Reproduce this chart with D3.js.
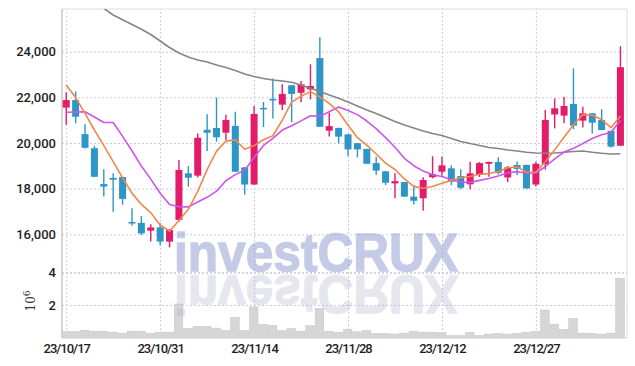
<!DOCTYPE html>
<html><head><meta charset="utf-8">
<script src="https://cdn.jsdelivr.net/npm/d3@7/dist/d3.min.js"></script>
<style>body{margin:0;background:#fff}svg{display:block}</style>
</head><body><svg id="c" width="635" height="366"></svg>
<script>
const dates = ["23/10/17","23/10/18","23/10/19","23/10/20","23/10/23","23/10/24","23/10/25","23/10/26","23/10/27","23/10/30",
"23/10/31","23/11/01","23/11/02","23/11/03","23/11/06","23/11/07","23/11/08","23/11/09","23/11/10","23/11/13",
"23/11/14","23/11/15","23/11/16","23/11/17","23/11/20","23/11/21","23/11/22","23/11/23","23/11/24","23/11/27",
"23/11/28","23/11/29","23/11/30","23/12/01","23/12/04","23/12/05","23/12/06","23/12/07","23/12/08","23/12/11",
"23/12/12","23/12/13","23/12/14","23/12/15","23/12/18","23/12/19","23/12/20","23/12/21","23/12/22","23/12/26",
"23/12/27","23/12/28","24/01/02","24/01/03","24/01/04","24/01/05","24/01/08","24/01/09","24/01/10","24/01/11"];
const opens = [21550,21880,20390,19770,18200,18470,18510,16540,16500,16160,16300,15680,16630,18670,18570,20580,20660,20450,20750,18930,
18180,21540,21930,21680,22530,22200,22350,23720,20540,20660,20380,19990,19740,19120,18760,18230,18290,17650,17580,18500,
18740,18890,18550,18190,18600,19090,19170,18490,19040,19040,18180,19080,21250,21200,21710,20980,21300,21010,20530,19880];
const highs = [22220,22260,20820,19880,18850,18670,18520,17140,16800,16440,16480,16230,19250,18990,20420,21260,21990,21240,21370,18950,
21620,21800,22830,22570,22540,22720,23450,24630,21330,20670,20390,20000,19750,19400,18770,18670,18300,18160,18500,19420,
19400,19020,18850,19180,19170,19180,19370,18990,19190,19050,19180,21450,21950,22030,23270,21590,21310,21480,20540,24240];
const lows = [20800,20860,19760,18500,17660,16990,17300,16380,15970,15690,15520,15430,16550,18090,18500,19650,20060,20130,18740,17740,
18170,20700,21070,21450,20910,21780,21910,20700,20280,19990,19430,19370,19080,18610,18150,17580,17640,17310,17030,18450,
18560,18150,17970,17970,18510,18520,18620,18290,18600,18000,18090,18840,20640,20860,20610,20680,20420,20560,19800,19870];
const closes = [21880,21150,19790,18520,18090,18390,17550,16470,16040,16300,15680,16190,18820,18480,20230,20450,20250,21010,18740,18180,
21270,21500,21890,22150,22150,22570,22500,20710,20740,20280,19720,19720,19090,18790,18260,18330,17650,17470,18380,18640,
19020,18300,18040,18670,19120,19170,18690,18930,18860,18010,19090,21010,21520,21620,20760,21300,20890,20570,19840,23320];
const volumes = [0.37,0.37,0.45,0.39,0.39,0.33,0.27,0.39,0.39,0.27,0.33,0.33,2.06,0.55,0.68,0.68,0.58,0.43,1.24,0.43,
1.88,0.82,0.74,0.43,0.55,0.39,0.74,1.79,0.39,0.33,0.50,0.35,0.43,0.25,0.25,0.21,0.27,0.39,0.33,0.33,
0.30,0.12,0.12,0.31,0.12,0.21,0.25,0.21,0.25,0.33,0.37,1.69,0.82,0.50,1.18,0.27,0.25,0.21,0.27,3.65];
const ma5 = [22540,21990,21300,20570,19886,19188,18468,17804,17308,16950,16408,16136,16606,17094,17880,18834,19646,20084,20136,19726,
19890,20140,20316,20998,21792,22052,22252,22016,21734,21360,20790,20234,19910,19520,19116,18838,18424,18100,18018,18094,
18232,18362,18476,18534,18630,18660,18738,18916,18954,18732,18716,19180,19698,20250,20800,21242,21218,21028,20672,21184];
const ma10 = [21350,21360,21370,21140,20900,20900,20290,19660,18990,18418,17798,17302,17205,17201,17415,17621,17891,18345,18615,18803,
19362,19893,20200,20567,20759,20971,21196,21166,21366,21576,21421,21243,20963,20627,20238,19814,19329,19005,18769,18605,
18535,18393,18288,18276,18362,18446,18550,18696,18744,18681,18688,18959,19307,19602,19766,19979,20199,20363,20461,20992];
const ma60 = [26800,26600,26380,26150,25900,25608,25402,25192,24981,24754,24469,24184,23943,23768,23636,23549,23417,23308,23176,23023,
22913,22826,22760,22716,22659,22541,22397,22256,22103,21958,21796,21621,21446,21292,21117,20942,20789,20657,20526,20416,
20329,20197,20066,19978,19891,19803,19759,19693,19650,19593,19562,19549,19562,19593,19628,19650,19593,19549,19518,19531];
const priceTicks = [16000,18000,20000,22000,24000];
const volTicks = [2,4];
const dateTickIdx = [0,10,20,30,40,50];

const L=62,R=627,T=9,PB=272,VB=338;
const svg=d3.select('#c');
const x=d3.scaleLinear().domain([-0.45,59.7]).range([L,R]);
const y=d3.scaleLinear().domain([16000,24000]).range([234.3,51.7]);
const yv=d3.scaleLinear().domain([0,4]).range([337.5,272.5]);
const idx=d3.range(dates.length);

svg.append('defs').append('clipPath').attr('id','cp').append('rect')
  .attr('x',L).attr('y',T).attr('width',R-L).attr('height',PB-T);

const gridCol='#c9cce0';
function styleAxis(g,fs){
  g.select('.domain').remove();
  g.selectAll('.tick line').attr('stroke',gridCol).attr('stroke-dasharray','2,2');
  g.selectAll('.tick text').attr('fill','#1e1e1e').style('font-family','Roboto, "Liberation Sans", sans-serif')
   .style('font-size',fs+'px').style('font-weight','500');
}
svg.append('g').attr('transform',`translate(${L},0)`)
  .call(d3.axisLeft(y).tickValues(priceTicks).tickSize(-(R-L)).tickPadding(6).tickFormat(d3.format(',')))
  .call(g=>styleAxis(g,13));
svg.append('g').attr('transform',`translate(${L},0)`)
  .call(d3.axisLeft(yv).tickValues(volTicks).tickSize(-(R-L)).tickPadding(6).tickFormat(d3.format('d')))
  .call(g=>styleAxis(g,13))
  .call(g=>g.selectAll('.tick line').filter(d=>d===4).attr('stroke','#a8a8b4'));
svg.append('g').attr('transform',`translate(0,${VB})`)
  .call(d3.axisBottom(x).tickValues(dateTickIdx).tickSize(-(VB-T)).tickPadding(6).tickFormat(i=>dates[i]))
  .call(g=>styleAxis(g,13))
  .call(g=>g.selectAll('.tick text').style('letter-spacing','-1px'));

svg.append('line').attr('x1',L).attr('x2',L).attr('y1',T).attr('y2',VB).attr('stroke','#c8c8c8').attr('stroke-width',1.5);
svg.append('line').attr('x1',L).attr('x2',R).attr('y1',T).attr('y2',T).attr('stroke','#dcdcdc');
svg.append('line').attr('x1',R).attr('x2',R).attr('y1',T).attr('y2',VB).attr('stroke','#dcdcdc');
svg.append('line').attr('x1',L).attr('x2',R).attr('y1',VB).attr('y2',VB).attr('stroke','#cfcfcf');

svg.append('text').attr('transform','translate(35,301) rotate(-90)').attr('text-anchor','middle')
  .style('font-family','"DejaVu Serif", serif').style('font-size','12px').attr('fill','#333')
  .html('10<tspan dy="-5" font-size="9">6</tspan>');

// volume bars
const bw = x(1)-x(0);
svg.append('g').selectAll('rect').data(idx).join('rect')
  .attr('x',i=>x(i)-bw/2).attr('width',bw-0.8)
  .attr('y',i=>yv(volumes[i])).attr('height',i=>yv(0)-yv(volumes[i]))
  .attr('fill','#d6d6d6').attr('stroke','#c4c4c4').attr('stroke-width',0.5);

// watermark (with mirrored reflection drawn from the same text)
const wmCol='rgb(150,162,212)';
svg.append('g').attr('fill',wmCol).attr('stroke',wmCol).attr('opacity',0.55)
  .append('text').attr('id','wmText').attr('x',174).attr('y',271)
  .attr('textLength',284).attr('lengthAdjust','spacingAndGlyphs').attr('stroke-width',1.4)
  .style('font-family','"Liberation Sans", Arial, sans-serif').style('font-weight','bold').style('font-size','54px')
  .text('investCRUX');
svg.append('use').attr('href','#wmText').attr('transform','translate(0,547) scale(1,-1)')
  .attr('fill','rgb(172,174,200)').attr('stroke','rgb(172,174,200)').attr('opacity',0.3);

// candles
const up='#e21c6a', dn='#2e95c7';
const cg = svg.append('g').attr('clip-path','url(#cp)');
cg.selectAll('line.w').data(idx).join('line').attr('class','w')
  .attr('x1',i=>x(i)).attr('x2',i=>x(i)).attr('y1',i=>y(highs[i])).attr('y2',i=>y(lows[i]))
  .attr('stroke',i=>closes[i]>=opens[i]?up:dn).attr('stroke-width',1.4);
cg.selectAll('rect.b').data(idx).join('rect').attr('class','b')
  .attr('x',i=>x(i)-3.5).attr('width',7)
  .attr('y',i=>y(Math.max(opens[i],closes[i])))
  .attr('height',i=>Math.max(1.5,Math.abs(y(opens[i])-y(closes[i]))))
  .attr('fill',i=>closes[i]>=opens[i]?up:dn);

function maLine(arr,col,w){
  cg.append('path').datum(idx).attr('fill','none').attr('stroke',col).attr('stroke-width',w)
    .attr('stroke-linejoin','round')
    .attr('d',d3.line().x(i=>x(i)).y(i=>y(arr[i])));
}
maLine(ma60,'#858585',1.6);
maLine(ma10,'#cc55ea',1.6);
maLine(ma5,'#f0874c',1.6);
</script></body></html>
